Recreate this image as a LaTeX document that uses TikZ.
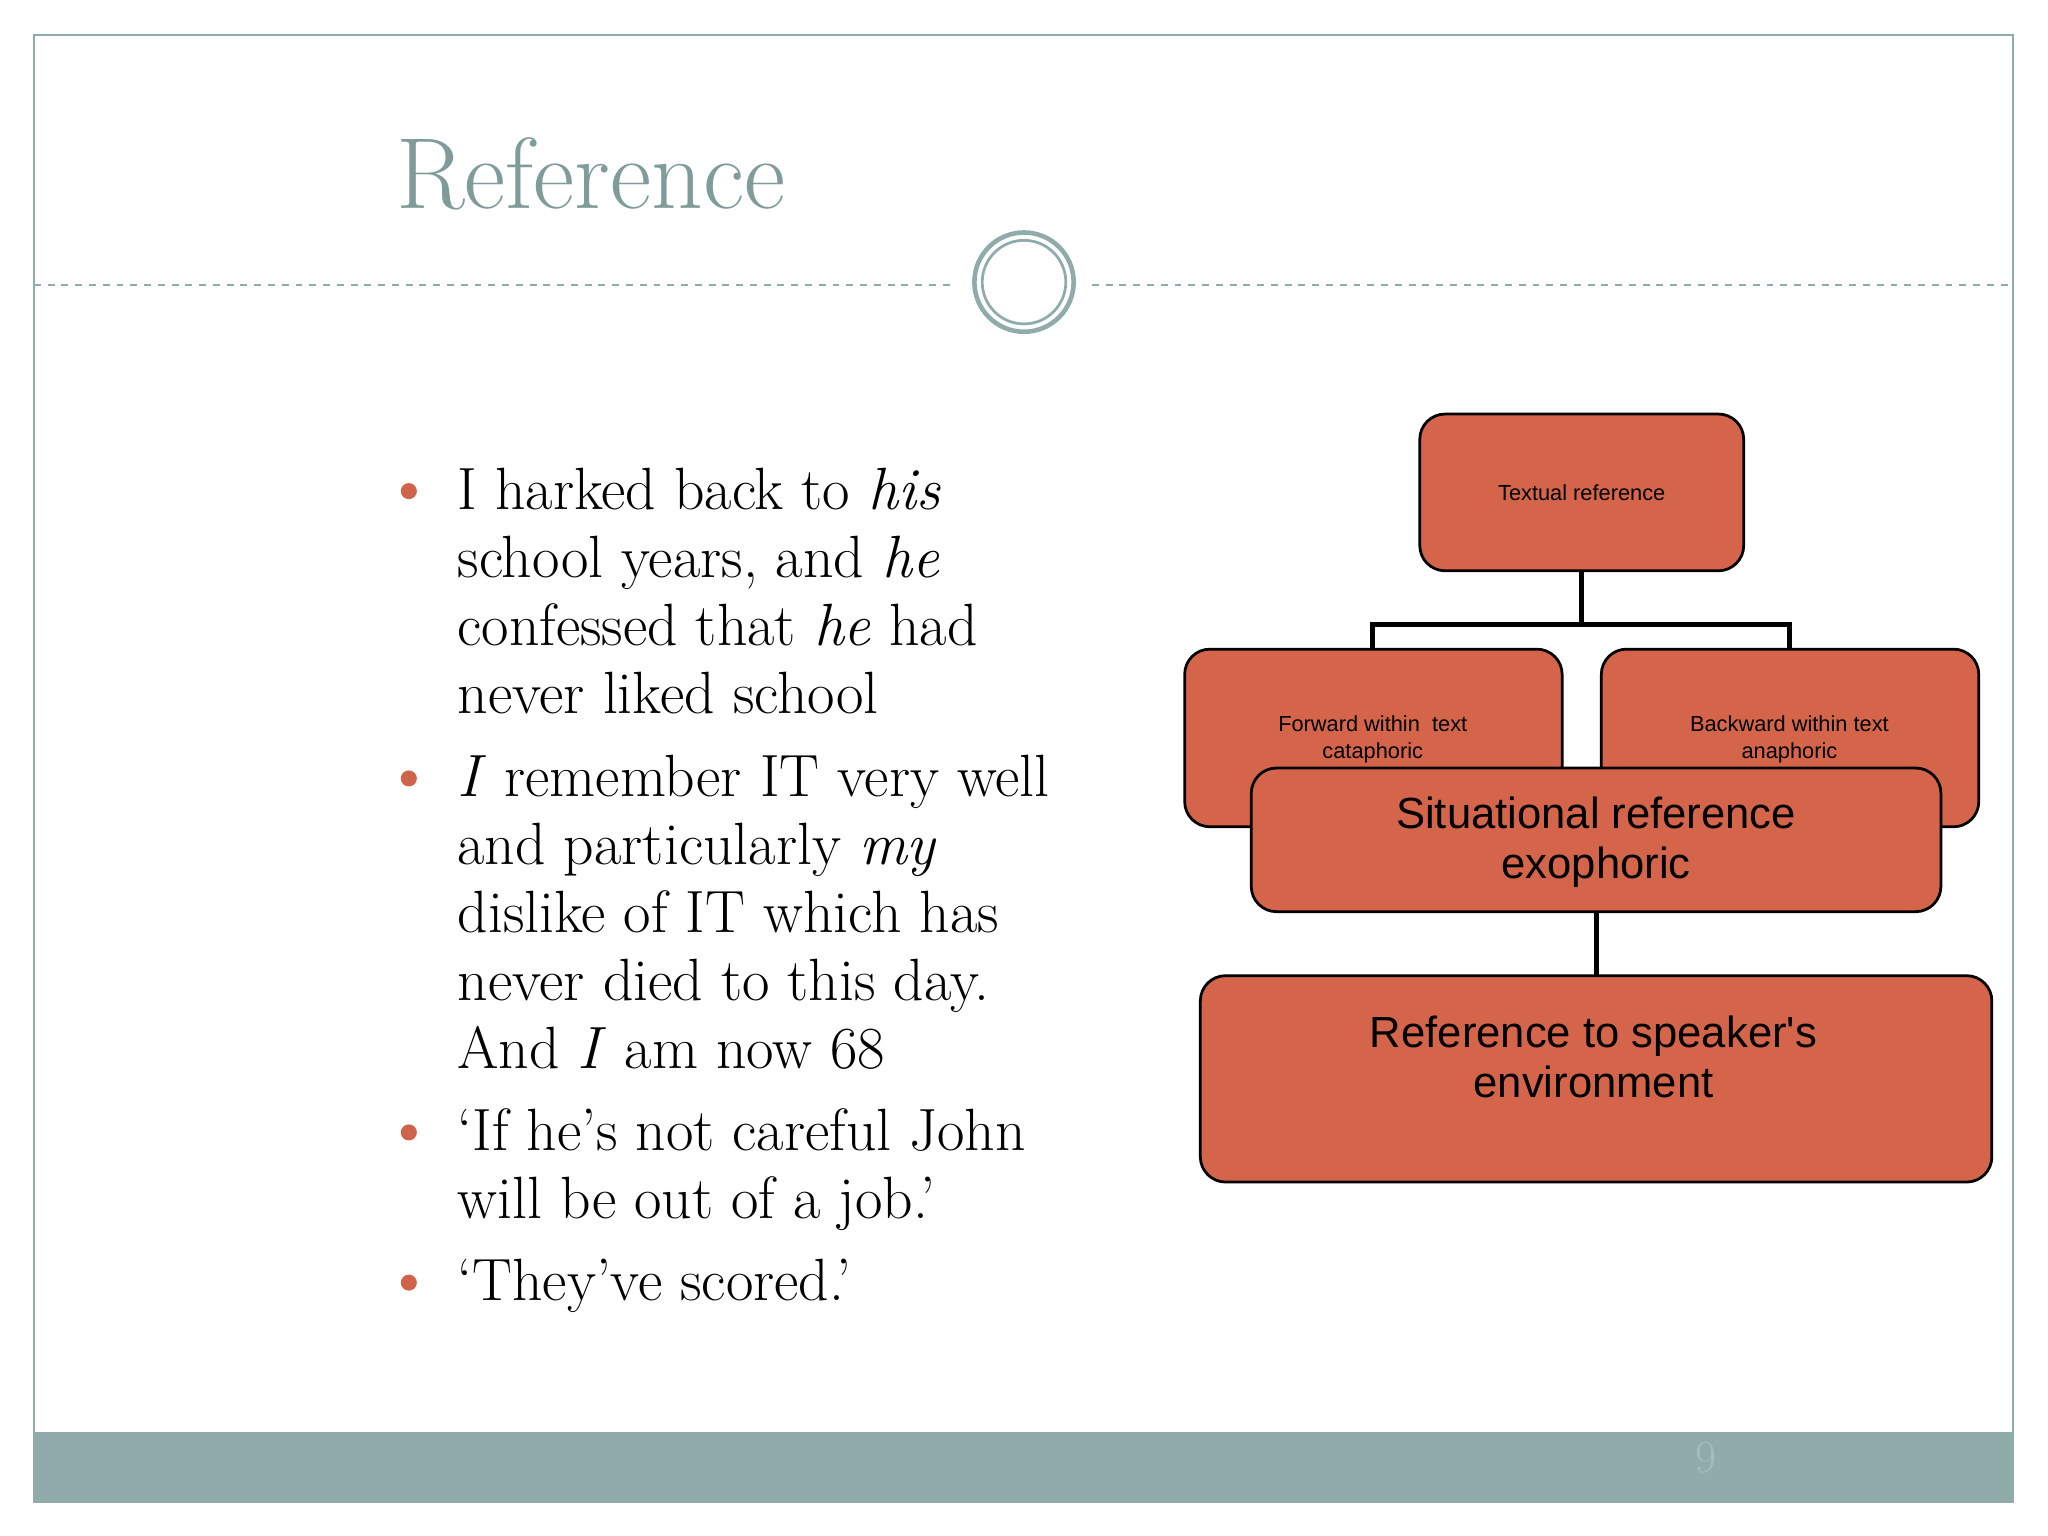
\documentclass[tikz,border=0pt]{standalone}
\usepackage{fontspec}
\newfontfamily\arial{Liberation Sans}
\definecolor{teal}{HTML}{8FACAA}
\definecolor{tealdark}{HTML}{7F9C99}
\definecolor{boxfill}{HTML}{D4654B}
\definecolor{bul}{HTML}{D0644A}
\tikzset{
  box/.style={draw=black, line width=1.2pt, fill=boxfill, rounded corners=11pt},
  conn/.style={draw=black, line width=2.2pt},
  body/.style={anchor=base west, inner sep=0pt, font=\fontsize{26}{30}\selectfont},
  bdot/.style={circle, fill=bul, inner sep=0pt, minimum size=7pt},
  small/.style={font=\arial\fontsize{9.5}{12}\selectfont, align=center},
  big/.style={font=\arial\fontsize{19}{22}\selectfont, align=center},
}
\begin{document}
\begin{tikzpicture}[x=0.02cm,y=-0.02cm]
\useasboundingbox (0,0) rectangle (1568,1176);
\fill[white] (0,0) rectangle (1568,1176);
\fill[teal] (26,1096) rectangle (1541,1150);
\draw[teal, line width=1pt] (26,27) rectangle (1541,1150);
\node[text=teal!80!white, font=\fontsize{20}{20}\selectfont] (pg) at (1306,1116) {9};
\node[anchor=base west, inner sep=0pt, text=tealdark, font=\fontsize{44}{44}\selectfont] (title) at (303,160) {Reference};
\draw[teal, dashed, line width=0.8pt] (26,218) -- (730,218);
\draw[teal, dashed, line width=0.8pt] (836,218) -- (1541,218);
\draw[teal, line width=2pt] (784,216) circle (38);
\draw[teal, line width=1.2pt] (784,216) circle (32);
% bullets
\foreach \y in {376,596,867,982} \node[bdot] at (313,\y) {};
\node[body] (l1) at (350,390) {I harked back to \emph{his}};
\node[body] (l2) at (350,442) {school years, and \emph{he}};
\node[body] (l3) at (350,494) {confessed that \emph{he} had};
\node[body] (l4) at (350,546) {never liked school};
\node[body] (l5) at (350,610) {\emph{I} remember IT very well};
\node[body] (l6) at (350,662) {and particularly \emph{my}};
\node[body] (l7) at (350,714) {dislike of IT which has};
\node[body] (l8) at (350,766) {never died to this day.};
\node[body] (l9) at (350,818) {And \emph{I} am now 68};
\node[body] (l10) at (350,881) {`If he's not careful John};
\node[body] (l11) at (350,933) {will be out of a job.'};
\node[body] (l12) at (350,996) {`They've scored.'};
% diagram
\draw[box] (1087,317) rectangle (1335,437);
\node[small] (tr) at (1211,377) {Textual reference};
\draw[conn] (1211,437) -- (1211,478) coordinate (j);
\draw[conn] (1051,497) -- (1051,478) -- (1370,478) -- (1370,497);
\draw[box] (907,497) rectangle (1196,633);
\node[small] (fw) at (1051,566) {Forward within\ \ text\\cataphoric};
\draw[box] (1226,497) rectangle (1515,633);
\node[small] (bw) at (1370,566) {Backward within text\\anaphoric};
\draw[box] (958,588) rectangle (1486,698);
\node[big] (sit) at (1222,645) {Situational reference\\exophoric};
\draw[conn] (1222,698) -- (1222,747);
\draw[box] (919,747) rectangle (1525,905);
\node[big] (env) at (1220,809) {Reference to speaker's\\environment};
\end{tikzpicture}
\end{document}
